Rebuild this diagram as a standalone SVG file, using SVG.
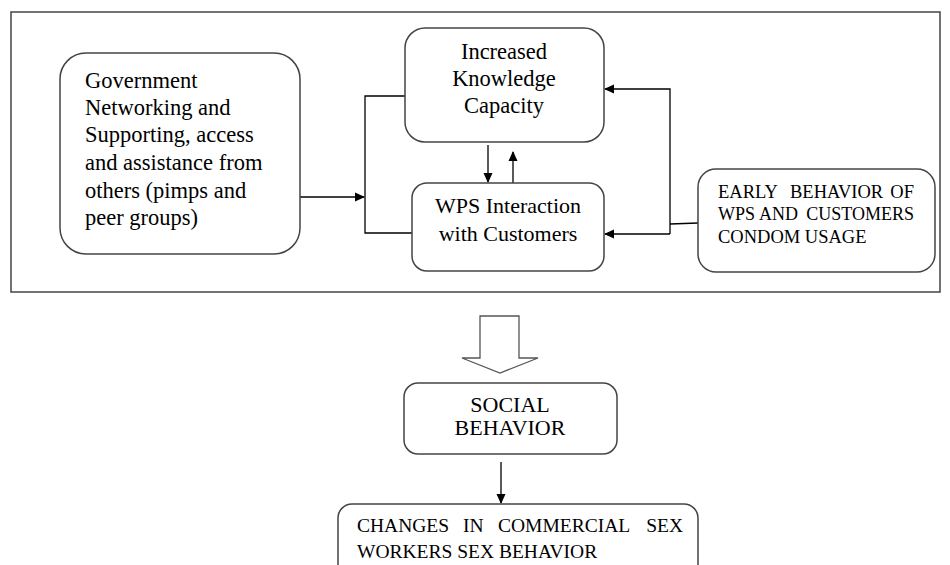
<svg xmlns="http://www.w3.org/2000/svg" width="950" height="565" viewBox="0 0 950 565">
<defs>
<marker id="ah" markerWidth="10" markerHeight="10" refX="9" refY="5" orient="auto" markerUnits="userSpaceOnUse">
<path d="M0,0.5 L10,5 L0,9.5 Z" fill="#000"/>
</marker>
<style>
.box{fill:#fff;stroke:#444;stroke-width:1.5}
.c{fill:none;stroke:#000;stroke-width:1.3}
text{fill:#000;font-family:"Liberation Serif","Times New Roman",serif}
.m{text-anchor:middle}
.e{text-anchor:end}
</style>
</defs>
<rect x="0" y="0" width="950" height="565" fill="#fff"/>
<rect id="frame" x="11" y="12" width="929" height="280" fill="none" stroke="#444" stroke-width="1.5"/>
<g id="connectors">
<path class="c" d="M300,197 H364" marker-end="url(#ah)"/>
<path class="c" d="M405,96 H365 V233 H412"/>
<path class="c" d="M488,145 V182" marker-end="url(#ah)"/>
<path class="c" d="M513,184 V152" marker-end="url(#ah)"/>
<path class="c" d="M698,223 L670,224"/>
<path class="c" d="M670,234 V89 H605" marker-end="url(#ah)"/>
<path class="c" d="M670,234 H605" marker-end="url(#ah)"/>
<path class="c" d="M501,462 V503" marker-end="url(#ah)"/>
<path d="M480,316 H519 V358 H538 L500,373 L462,358 H480 Z" fill="#fff" stroke="#555" stroke-width="1.3"/>
</g>
<g id="govt">
<rect class="box" x="60" y="53" width="240" height="201" rx="26"/>
<text font-size="22.5"><tspan x="85" y="88">Government</tspan><tspan x="85" y="115">Networking and</tspan><tspan x="85" y="142">Supporting, access</tspan><tspan x="85" y="170">and assistance from</tspan><tspan x="85" y="198">others (pimps and</tspan><tspan x="85" y="225">peer groups)</tspan></text>
</g>
<g id="knowledge">
<rect class="box" x="405" y="28" width="199" height="114" rx="20"/>
<text font-size="22.5" class="m"><tspan x="504" y="59">Increased</tspan><tspan x="504" y="86">Knowledge</tspan><tspan x="504" y="113">Capacity</tspan></text>
</g>
<g id="wps">
<rect class="box" x="412" y="183" width="192" height="88" rx="15"/>
<text font-size="22" class="m"><tspan x="508" y="213">WPS Interaction</tspan><tspan x="508" y="241">with Customers</tspan></text>
</g>
<g id="early">
<rect class="box" x="698" y="169" width="237" height="103" rx="18"/>
<text font-size="18.5" x="718" y="198">EARLY</text>
<text font-size="18.5" x="790" y="198">BEHAVIOR</text>
<text font-size="18.5" x="914" y="198" class="e">OF</text>
<text font-size="18" x="718" y="220">WPS</text>
<text font-size="18" x="759" y="220">AND</text>
<text font-size="18" x="914" y="220" class="e">CUSTOMERS</text>
<text font-size="18.5" x="718" y="243">CONDOM USAGE</text>
</g>
<g id="social">
<rect class="box" x="404" y="383" width="213" height="71" rx="14"/>
<text font-size="22" class="m"><tspan x="510" y="412">SOCIAL</tspan><tspan x="510" y="435">BEHAVIOR</tspan></text>
</g>
<g id="changes">
<rect class="box" x="338" y="504" width="360" height="80" rx="14"/>
<text font-size="19.5" x="357" y="532">CHANGES</text>
<text font-size="19.5" x="463" y="532">IN</text>
<text font-size="19.5" x="498" y="532">COMMERCIAL</text>
<text font-size="19.5" x="683" y="532" class="e">SEX</text>
<text font-size="19.5" x="357" y="558">WORKERS SEX BEHAVIOR</text>
</g>
</svg>
